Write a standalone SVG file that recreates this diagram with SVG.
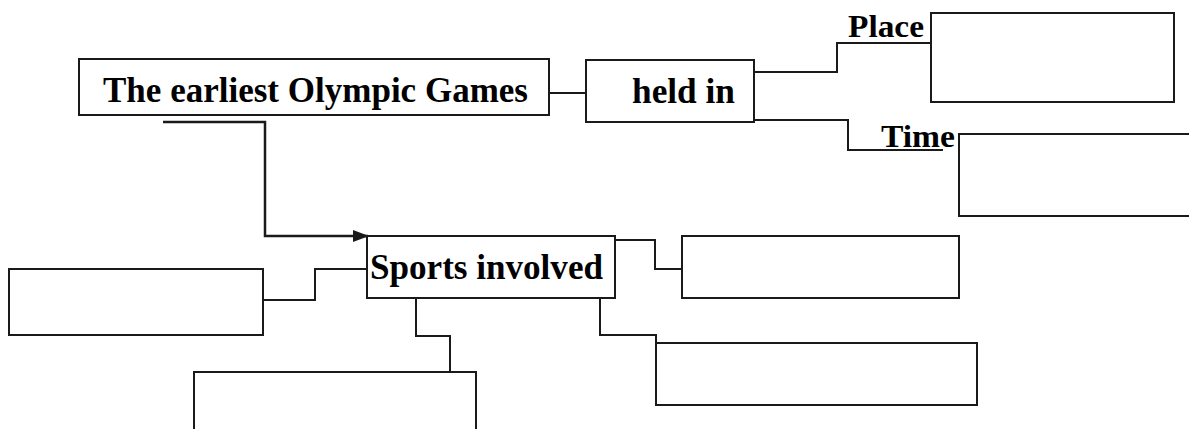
<svg xmlns="http://www.w3.org/2000/svg" width="1189" height="429" viewBox="0 0 1189 429">
  <style>
    .box { fill: #ffffff; stroke: #1a1a1a; stroke-width: 2; }
    .conn { fill: none; stroke: #1a1a1a; stroke-width: 2; }
    .thick { stroke-width: 2.5; }
    .lbl { font-family: "Liberation Serif", "Times New Roman", serif; font-weight: bold; fill: #000000; }
  </style>
  <defs>
    <marker id="arrow" markerWidth="16" markerHeight="14" refX="15" refY="7" orient="auto" markerUnits="userSpaceOnUse">
      <path d="M0,1 L16,7 L0,13 Z" fill="#1a1a1a"/>
    </marker>
  </defs>
  <rect width="1189" height="429" fill="#ffffff"/>

  <g id="connectors">
    <path class="conn" d="M549,93 L603,93"/>
    <path class="conn" d="M745,72 L837,72 L837,43 L931,43"/>
    <path class="conn" d="M754,120 L848,120 L848,150 L943,150"/>
    <path class="conn thick" d="M163,122 L265,122 L265,236 L368,236" marker-end="url(#arrow)"/>
    <path class="conn" d="M615,240 L655,240 L655,269 L682,269"/>
    <path class="conn" d="M367,269 L315,269 L315,300 L263,300"/>
    <path class="conn" d="M416,298 L416,336 L450,336 L450,372"/>
    <path class="conn" d="M600,298 L600,335 L656,335 L656,343"/>
  </g>

  <g id="node-olympic">
    <rect class="box" x="79" y="59" width="470" height="56"/>
    <text class="lbl" x="103" y="102" font-size="35" textLength="425" lengthAdjust="spacingAndGlyphs">The earliest Olympic Games</text>
  </g>

  <g id="node-heldin">
    <rect class="box" x="586" y="60" width="168" height="62"/>
    <text class="lbl" x="632" y="103" font-size="35" textLength="103" lengthAdjust="spacingAndGlyphs">held in</text>
  </g>

  <g id="node-place">
    <text class="lbl" x="848" y="37" font-size="32" textLength="76" lengthAdjust="spacingAndGlyphs">Place</text>
    <rect class="box" x="931" y="13" width="243" height="89"/>
  </g>

  <g id="node-time">
    <text class="lbl" x="881" y="147" font-size="32" textLength="74" lengthAdjust="spacingAndGlyphs">Time</text>
    <rect class="box" x="959" y="134" width="260" height="82"/>
  </g>

  <g id="node-sports">
    <rect class="box" x="367" y="236" width="248" height="62"/>
    <text class="lbl" x="370" y="279" font-size="36" textLength="233" lengthAdjust="spacingAndGlyphs">Sports involved</text>
  </g>

  <g id="node-right1">
    <rect class="box" x="682" y="236" width="277" height="62"/>
  </g>

  <g id="node-right2">
    <rect class="box" x="656" y="343" width="321" height="62"/>
  </g>

  <g id="node-left">
    <rect class="box" x="9" y="269" width="254" height="66"/>
  </g>

  <g id="node-bottom">
    <rect class="box" x="194" y="372" width="282" height="80"/>
  </g>
</svg>
